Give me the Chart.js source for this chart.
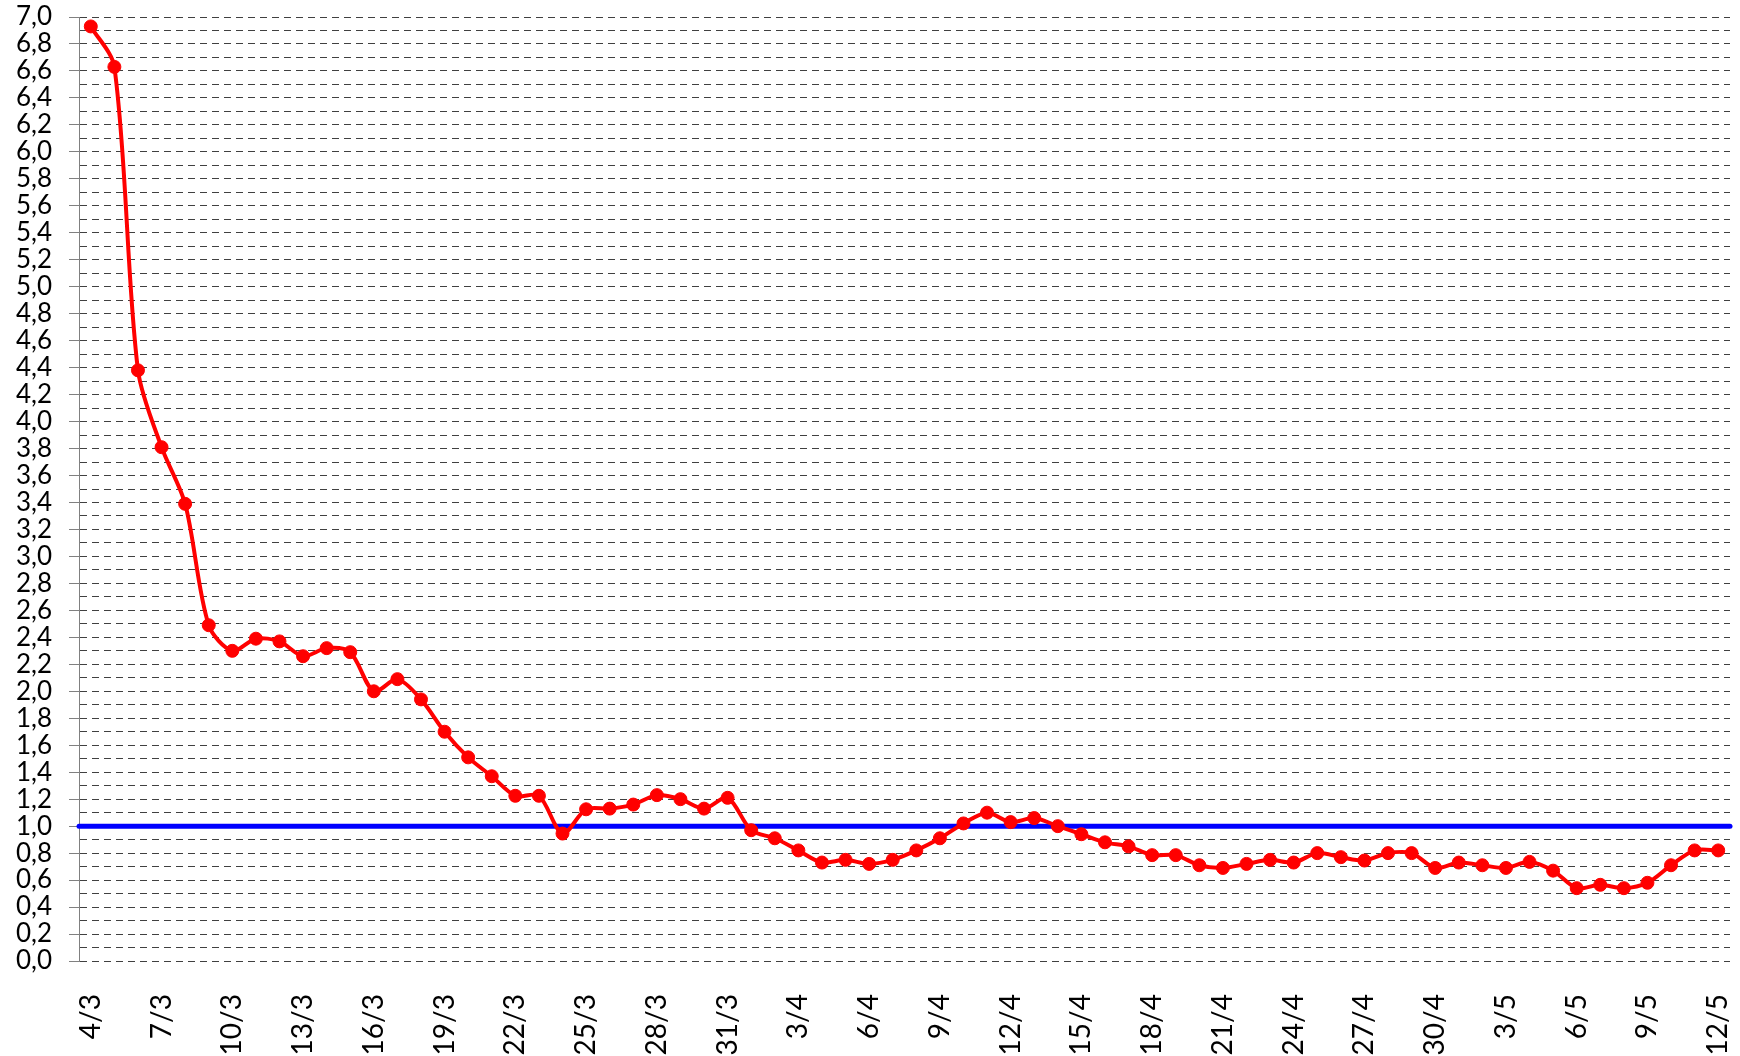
<!DOCTYPE html>
<html>
<head>
<meta charset="utf-8">
<script src="https://cdn.jsdelivr.net/npm/chart.js@4.4.1/dist/chart.umd.min.js"></script>
<style>
    body { margin: 0; background: #ffffff; }
    #grafico { display: block; }
</style>
</head>
<body>
<canvas id="grafico" width="1740" height="1056"></canvas>
<script>

/* DATOS */

const fechas = [
    '4/3','5/3','6/3','7/3','8/3','9/3','10/3','11/3','12/3','13/3','14/3','15/3','16/3','17/3',
    '18/3','19/3','20/3','21/3','22/3','23/3','24/3','25/3','26/3','27/3','28/3','29/3','30/3','31/3',
    '1/4','2/4','3/4','4/4','5/4','6/4','7/4','8/4','9/4','10/4','11/4','12/4','13/4','14/4','15/4',
    '16/4','17/4','18/4','19/4','20/4','21/4','22/4','23/4','24/4','25/4','26/4','27/4','28/4','29/4','30/4',
    '1/5','2/5','3/5','4/5','5/5','6/5','7/5','8/5','9/5','10/5','11/5','12/5'
];

const valoresMarzo = [
    6.93, 6.63, 4.38, 3.81, 3.39, 2.49, 2.30, 2.39, 2.37, 2.26, 2.32, 2.29, 2.00, 2.09,
    1.94, 1.70, 1.51, 1.37, 1.225, 1.225, 0.945, 1.125, 1.13, 1.16, 1.23, 1.20, 1.13, 1.21
];

const valoresAbril = [
    0.97, 0.91, 0.82, 0.73, 0.75, 0.72, 0.75, 0.82, 0.91, 1.02, 1.10, 1.03, 1.06, 1.00, 0.94,
    0.88, 0.85, 0.785, 0.785, 0.71, 0.69, 0.72, 0.75, 0.73, 0.80, 0.77, 0.745, 0.80, 0.80, 0.69
];

const valoresMayo = [
    0.73, 0.71, 0.69, 0.735, 0.67, 0.54, 0.565, 0.54, 0.58, 0.71, 0.82, 0.82
];

const umbral = 1.0;
const ejeMin = 0;
const ejeMax = 7;
const ejePaso = 0.1;

const valores = valoresMarzo.concat(valoresAbril, valoresMayo);

/* LINEA DE UMBRAL */

const lineaUmbral = {
    id: 'lineaUmbral',
    beforeDatasetsDraw(chart){
        let ctx = chart.ctx;
        let area = chart.chartArea;
        let y = chart.scales.y.getPixelForValue(umbral);
        ctx.save();
        ctx.strokeStyle = '#0000ff';
        ctx.lineWidth = 5;
        ctx.lineCap = 'round';
        ctx.beginPath();
        ctx.moveTo(area.left, y);
        ctx.lineTo(area.right, y);
        ctx.stroke();
        ctx.restore();
    }
};

function esMayor(valor){
    return Math.round(valor * 10) % 2 === 0;
}

/* GRAFICO */

new Chart(document.getElementById('grafico'), {
    type: 'line',
    data: {
        labels: fechas,
        datasets: [{
            data: valores,
            borderColor: '#ff0000',
            backgroundColor: '#ff0000',
            borderWidth: 4,
            pointRadius: 6.5,
            pointBorderWidth: 1,
            pointBackgroundColor: '#ff0000',
            pointBorderColor: '#ff0000',
            tension: 0.3,
            fill: false
        }]
    },
    options: {
        responsive: false,
        animation: false,
        layout: {
            padding: { top: 17, right: 10, left: 0, bottom: 0 }
        },
        plugins: {
            legend: { display: false },
            tooltip: { enabled: false }
        },
        scales: {
            x: {
                type: 'category',
                offset: true,
                grid: { display: false, drawTicks: false },
                border: { display: false },
                ticks: {
                    autoSkip: false,
                    minRotation: 90,
                    maxRotation: 90,
                    padding: 33,
                    color: '#000000',
                    font: { family: 'Lato', size: 28 },
                    callback: function(valor, indice){
                        return indice % 3 === 0 ? fechas[indice] : '';
                    }
                },
                afterFit(escala){
                    escala.height = 95;
                    escala.paddingLeft = 0;
                    escala.paddingRight = 0;
                    escala.paddingTop = 0;
                    escala.paddingBottom = 0;
                }
            },
            y: {
                min: ejeMin,
                max: ejeMax,
                grid: {
                    color: '#404040',
                    lineWidth: 1,
                    drawTicks: true,
                    tickLength: 10,
                    tickBorderDash: [],
                    tickColor: ctx => (ctx.tick && esMayor(ctx.tick.value)) ? '#808080' : 'rgba(0,0,0,0)'
                },
                border: {
                    display: true,
                    color: '#808080',
                    width: 1,
                    dash: [7, 5]
                },
                ticks: {
                    stepSize: ejePaso,
                    maxTicksLimit: 100,
                    autoSkip: false,
                    padding: 17,
                    color: '#000000',
                    font: { family: 'Lato', size: 26 },
                    callback: function(valor){
                        return esMayor(valor) ? valor.toFixed(1).replace('.', ',') : '';
                    }
                },
                afterFit(escala){
                    escala.width = 79;
                    escala.paddingLeft = 0;
                    escala.paddingRight = 0;
                    escala.paddingTop = 0;
                    escala.paddingBottom = 0;
                }
            }
        }
    },
    plugins: [lineaUmbral]
});

</script>
</body>
</html>
